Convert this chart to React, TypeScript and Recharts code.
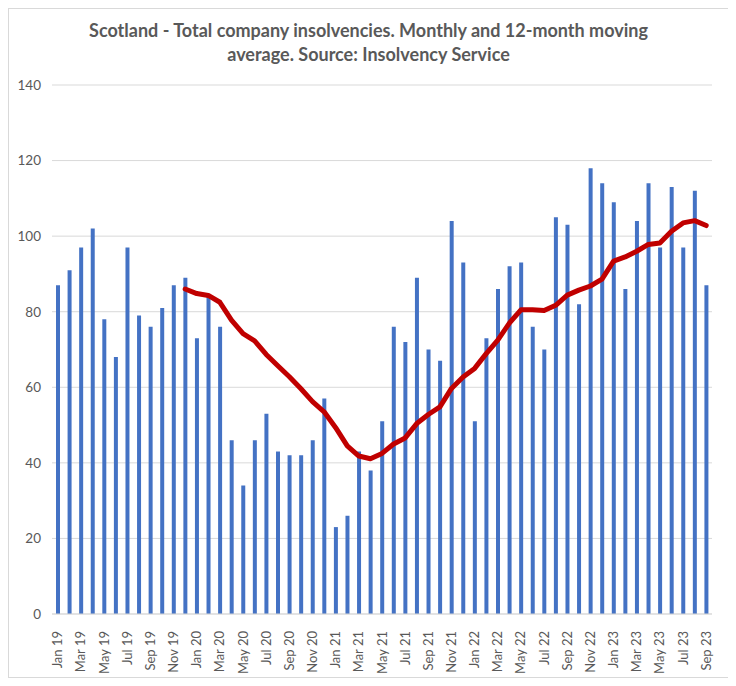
import React from 'react';
import {
  ComposedChart,
  Bar,
  Line,
  XAxis,
  YAxis,
  CartesianGrid,
} from 'recharts';

const months = [
  'Jan 19', 'Feb 19', 'Mar 19', 'Apr 19', 'May 19', 'Jun 19', 'Jul 19', 'Aug 19', 'Sep 19', 'Oct 19', 'Nov 19', 'Dec 19',
  'Jan 20', 'Feb 20', 'Mar 20', 'Apr 20', 'May 20', 'Jun 20', 'Jul 20', 'Aug 20', 'Sep 20', 'Oct 20', 'Nov 20', 'Dec 20',
  'Jan 21', 'Feb 21', 'Mar 21', 'Apr 21', 'May 21', 'Jun 21', 'Jul 21', 'Aug 21', 'Sep 21', 'Oct 21', 'Nov 21', 'Dec 21',
  'Jan 22', 'Feb 22', 'Mar 22', 'Apr 22', 'May 22', 'Jun 22', 'Jul 22', 'Aug 22', 'Sep 22', 'Oct 22', 'Nov 22', 'Dec 22',
  'Jan 23', 'Feb 23', 'Mar 23', 'Apr 23', 'May 23', 'Jun 23', 'Jul 23', 'Aug 23', 'Sep 23',
];

const monthly = [
  87, 91, 97, 102, 78, 68, 97, 79, 76, 81, 87, 89,
  73, 84, 76, 46, 34, 46, 53, 43, 42, 42, 46, 57,
  23, 26, 43, 38, 51, 76, 72, 89, 70, 67, 104, 93,
  51, 73, 86, 92, 93, 76, 70, 105, 103, 82, 118, 114,
  109, 86, 104, 114, 97, 113, 97, 112, 87,
];

// 12-month moving average (starts Dec 19)
const movingAvg: (number | null)[] = [
  null, null, null, null, null, null, null, null, null, null, null, 86.0,
  84.8, 84.3, 82.5, 77.8, 74.2, 72.3, 68.7, 65.7, 62.8, 59.6, 56.2, 53.5,
  49.3, 44.5, 41.8, 41.1, 42.5, 45.0, 46.6, 50.4, 52.8, 54.8, 59.7, 62.7,
  65.0, 68.9, 72.5, 77.0, 80.5, 80.5, 80.3, 81.7, 84.4, 85.7, 86.8, 88.6,
  93.4, 94.5, 96.0, 97.8, 98.2, 101.3, 103.5, 104.1, 102.8,
];

const yTicks = [0, 20, 40, 60, 80, 100, 120, 140];

const data = months.map((m, i) => ({
  month: m,
  monthly: monthly[i],
  avg: movingAvg[i],
}));

const FONT = 'Lato, "Open Sans", sans-serif';
const GREY = '#595959';

function MonthTick(props: any) {
  const { x, y, payload } = props;
  return (
    <g transform={`translate(${x},${y + 9})`}>
      <text
        transform="rotate(-90)"
        x={0}
        y={0}
        dy={4.5}
        textAnchor="end"
        fill={GREY}
        fontSize={13}
        fontFamily={FONT}
      >
        {payload.value}
      </text>
    </g>
  );
}

export default function App() {
  return (
    <div
      style={{
        position: 'relative',
        width: 719,
        height: 668,
        border: '1px solid #D9D9D9',
        background: '#fff',
      }}
    >
      <div
        style={{
          position: 'absolute',
          top: 9,
          left: 0,
          width: 719,
          textAlign: 'center',
          fontFamily: FONT,
          fontWeight: 700,
          fontSize: 18,
          lineHeight: '24px',
          color: GREY,
        }}
      >
        Scotland - Total company insolvencies. Monthly and 12-month moving
        <br />
        average. Source: Insolvency Service
      </div>
      <ComposedChart
        width={719}
        height={668}
        data={data}
        margin={{ top: 76, right: 16, bottom: 0, left: 0 }}
      >
        <CartesianGrid vertical={false} stroke="#D9D9D9" />
        <XAxis
          dataKey="month"
          interval={1}
          height={63}
          stroke="#D9D9D9"
          tickLine={false}
          tick={<MonthTick />}
        />
        <YAxis
          domain={[0, 140]}
          ticks={yTicks}
          width={43}
          axisLine={false}
          tickLine={false}
          tickSize={0}
          tickMargin={11}
          tick={{ fill: GREY, fontSize: 13.5, fontFamily: FONT }}
        />
        <Bar
          dataKey="monthly"
          fill="#4472C4"
          barSize={4}
          isAnimationActive={false}
        />
        <Line
          type="linear"
          dataKey="avg"
          stroke="#C00000"
          strokeWidth={5}
          strokeLinecap="round"
          strokeLinejoin="round"
          dot={false}
          activeDot={false}
          isAnimationActive={false}
        />
      </ComposedChart>
    </div>
  );
}
